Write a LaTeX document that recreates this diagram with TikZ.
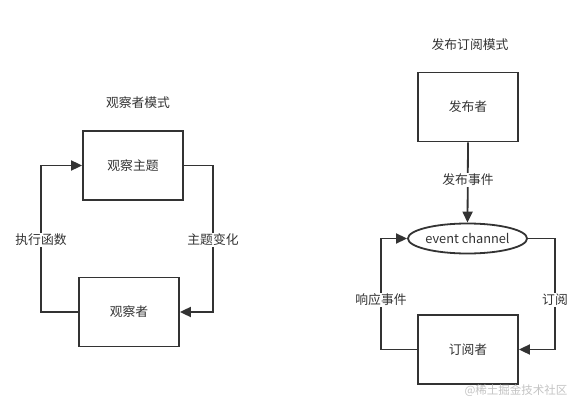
\documentclass[tikz,border=0pt]{standalone}
\usepackage{fontspec}
\setmainfont{Noto Sans CJK SC}
\usetikzlibrary{arrows.meta,shapes.geometric}
\definecolor{ink}{HTML}{333333}
\definecolor{wm}{HTML}{C4C4C4}
\begin{document}
\begin{tikzpicture}[x=1pt,y=-1pt,
  txt/.style={text=ink,font=\fontsize{12.8}{15}\selectfont},
  box/.style={txt,draw=ink,line width=1.8pt,minimum width=100pt,minimum height=69pt,inner sep=0pt},
  oval/.style={txt,ellipse,draw=ink,line width=1.8pt,minimum width=115pt,minimum height=30pt,inner sep=0pt},
  lbl/.style={txt,fill=white,inner sep=1.5pt},
  conn/.style={draw=ink,line width=1.8pt},
  arr/.style={conn,-{Triangle[length=11pt,width=10pt]}}]
\useasboundingbox (0,0) rectangle (583,409);
\fill[white] (0,0) rectangle (583,409);

% ---- Observer pattern ----
\node[txt] (t1) at (138,103) {观察者模式};
\node[box] (subj) at (133,165.5) {观察主题};
\node[box] (obs) at (129,312) {观察者};
\coordinate (l1) at (41,312);
\coordinate (l2) at (41,165.5);
\coordinate (r1) at (213,165.5);
\coordinate (r2) at (213,312);
\draw[arr] (obs.west) -- (l1) -- (l2) -- (subj.west);
\draw[arr] (subj.east) -- (r1) -- (r2) -- (obs.east);
\node[lbl] (e1) at (41,240) {执行函数};
\node[lbl] (e2) at (213,240) {主题变化};

% ---- Publish/subscribe pattern ----
\node[txt] (t2) at (470,45) {发布订阅模式};
\node[box] (pub) at (468,107) {发布者};
\node[oval] (ch) at (467.5,238.5) {event channel};
\node[box] (sub) at (468,349.5) {订阅者};
\draw[arr] (pub.south) -- (ch.north);
\node[lbl] (e3) at (468,180) {发布事件};
\coordinate (a1) at (381,349.5);
\coordinate (a2) at (381,238.5);
\coordinate (b1) at (555,238.5);
\coordinate (b2) at (555,349.5);
\draw[arr] (sub.west) -- (a1) -- (a2) -- (ch.west);
\draw[arr] (ch.east) -- (b1) -- (b2) -- (sub.east);
\node[lbl] (e4) at (381,300) {响应事件};
\node[lbl] (e5) at (555,300) {订阅};

\node[text=wm,font=\fontsize{11.5}{13}\selectfont] (w) at (516,391) {@稀土掘金技术社区};
\end{tikzpicture}
\end{document}
